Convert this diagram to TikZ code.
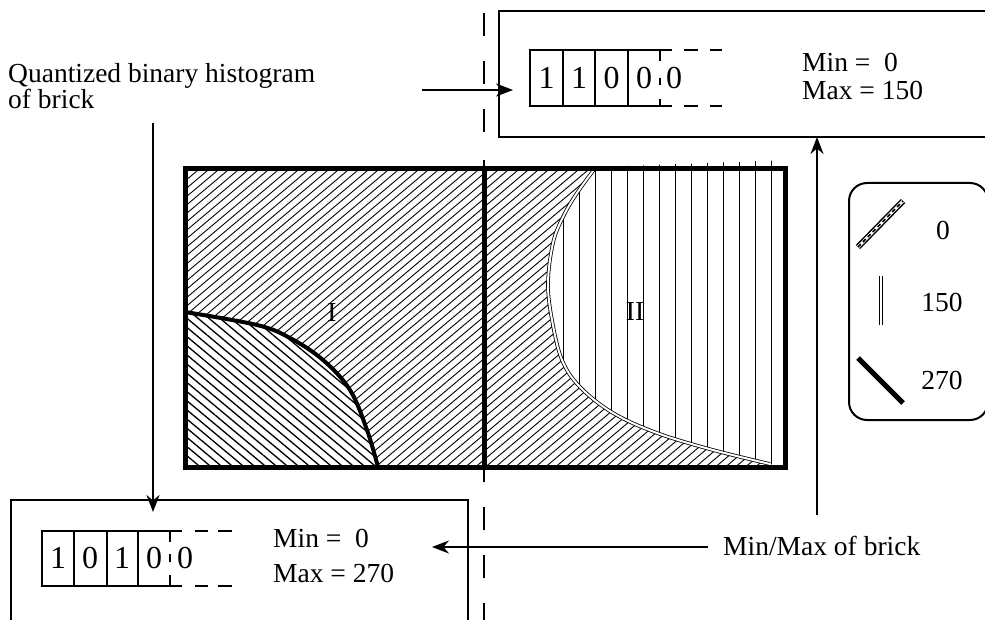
\documentclass[tikz,border=0pt]{standalone}
\usepackage{fontspec}
\setmainfont{Liberation Serif}
\usetikzlibrary{arrows.meta}
\begin{document}
\begin{tikzpicture}[x=1pt,y=-1pt,
  lbl/.style={inner sep=0pt, font=\fontsize{27.5}{25}\selectfont},
  dig/.style={inner sep=0pt, font=\fontsize{32}{32}\selectfont},
  boxline/.style={line width=2pt},
  arr/.style={line width=2pt,-{Stealth[length=17pt,width=13pt]}},
  hatch/.style={line width=0.9pt},
  hatchb/.style={line width=1.3pt},
  frame/.style={line width=5pt},
  guide/.style={line width=2.6pt, dash pattern=on 23pt off 25pt}]
\useasboundingbox (0,0) rectangle (985,620);

% ---------- main brick ----------
\begin{scope}
  \clip (185,169) rectangle (785,467);
  \foreach \c in {-200,-190,...,800} \draw[hatch] (\c,480) -- ++(380,-320);
\end{scope}
\begin{scope}
  \clip plot[smooth,tension=0.6] coordinates {(185,312) (257,325) (290,338) (323,360) (350,390) (367,430) (378,467)} -- (185,467) -- cycle;
  \fill[white] (185,169) rectangle (785,467);
  \foreach \c in {-100,-89,...,400} \draw[hatchb] (\c,290) -- ++(240,200);
\end{scope}
\begin{scope}
  \clip plot[smooth,tension=0.6] coordinates {(596,167) (577,193) (563,217) (553,243) (548,283) (552,320) (562,360) (580,387) (613,413) (657,433) (713,450) (770,464)} -- (790,470) -- (790,160) -- cycle;
  \fill[white] (480,160) rectangle (790,470);
  \foreach \x in {563,579,...,771} \draw[hatch] (\x,160) -- (\x,470);
\end{scope}
\draw[line width=0.8pt, double=white, double distance=2pt] plot[smooth,tension=0.6] coordinates {(596,167) (577,193) (563,217) (553,243) (548,283) (552,320) (562,360) (580,387) (613,413) (657,433) (713,450) (770,464)};
\draw[line width=4pt] plot[smooth,tension=0.6] coordinates {(185,312) (257,325) (290,338) (323,360) (350,390) (367,430) (378,467)};
\draw[frame] (185,169) rectangle (785,467);
\draw[frame] (484,169) -- (484,467);
\draw[line width=2.6pt] (484,160) -- (484,482);
\draw[guide] (484,13) -- (484,140);
\draw[guide] (484,507) -- (484,620);

\node[lbl] (rI) at (332,312) {I};
\node[lbl] (rII) at (635,311) {II};

% ---------- top box ----------
\draw[boxline] (987,11) -- (499,11) -- (499,137) -- (987,137);
\draw[boxline] (672,50) -- (530,50) -- (530,106) -- (672,106);
\draw[boxline] (563,50) -- (563,106) (595,50) -- (595,106) (628,50) -- (628,106);
\draw[boxline] (660,50) -- (660,61) (660,78) -- (660,85) (660,99) -- (660,106);
\draw[boxline] (684,50) -- (698,50) (710,50) -- (722,50) (684,106) -- (698,106) (710,106) -- (722,106);
\node[dig] (t1) at (546.5,78) {1};
\node[dig] (t2) at (579,78) {1};
\node[dig] (t3) at (611.5,78) {0};
\node[dig] (t4) at (644,78) {0};
\node[dig] (t5) at (674,78) {0};
\node[lbl, anchor=base west] (mn1) at (802,72) {Min = \ 0};
\node[lbl, anchor=base west] (mx1) at (802,100) {Max = 150};

% ---------- bottom box ----------
\draw[boxline] (11,622) -- (11,500) -- (468,500) -- (468,622);
\draw[boxline] (182,531) -- (42,531) -- (42,586) -- (182,586);
\draw[boxline] (74,531) -- (74,586) (107,531) -- (107,586) (138,531) -- (138,586);
\draw[boxline] (170,531) -- (170,542) (170,554) -- (170,562) (170,575) -- (170,586);
\draw[boxline] (195,531) -- (208,531) (218,531) -- (232,531) (195,586) -- (208,586) (218,586) -- (232,586);
\node[dig] (b1) at (58,558) {1};
\node[dig] (b2) at (90,558) {0};
\node[dig] (b3) at (122,558) {1};
\node[dig] (b4) at (154,558) {0};
\node[dig] (b5) at (185,558) {0};
\node[lbl, anchor=base west] (mn2) at (273,547) {Min = \ 0};
\node[lbl, anchor=base west] (mx2) at (273,582) {Max = 270};

% ---------- legend ----------
\draw[line width=2pt, rounded corners=18pt] (849,183) rectangle (988,420);
\coordinate (g0a) at (858,247); \coordinate (g0b) at (903,201);
\draw[line width=6pt] (g0a) -- (g0b);
\draw[line width=3pt, white] (g0a) -- (g0b);
\draw[line width=1.6pt, dash pattern=on 4pt off 3pt] (g0a) -- (g0b);
\coordinate (g1a) at (881,276); \coordinate (g1b) at (881,325);
\draw[line width=1.3pt, double=white, double distance=2.2pt] (g1a) -- (g1b);
\coordinate (g2a) at (858,358); \coordinate (g2b) at (903,403);
\draw[line width=5pt] (g2a) -- (g2b);
\node[lbl] (l0) at (943,230) {0};
\node[lbl] (l150) at (942,302) {150};
\node[lbl] (l270) at (942,380) {270};

% ---------- labels and arrows ----------
\node[lbl, anchor=base west] (q1) at (8,83) {Quantized binary histogram};
\node[lbl, anchor=base west] (q2) at (8,109) {of brick};
\node[lbl, anchor=base west] (mm) at (723,555) {Min/Max of brick};

\coordinate (a1s) at (422,90);  \coordinate (a1e) at (513,90);
\coordinate (a2s) at (153,123); \coordinate (a2e) at (153,512);
\coordinate (a3s) at (817,515); \coordinate (a3e) at (817,137);
\coordinate (a4s) at (708,547); \coordinate (a4e) at (432,547);
\draw[arr] (a1s) -- (a1e);
\draw[arr] (a2s) -- (a2e);
\draw[arr] (a3s) -- (a3e);
\draw[arr] (a4s) -- (a4e);
\end{tikzpicture}
\end{document}
